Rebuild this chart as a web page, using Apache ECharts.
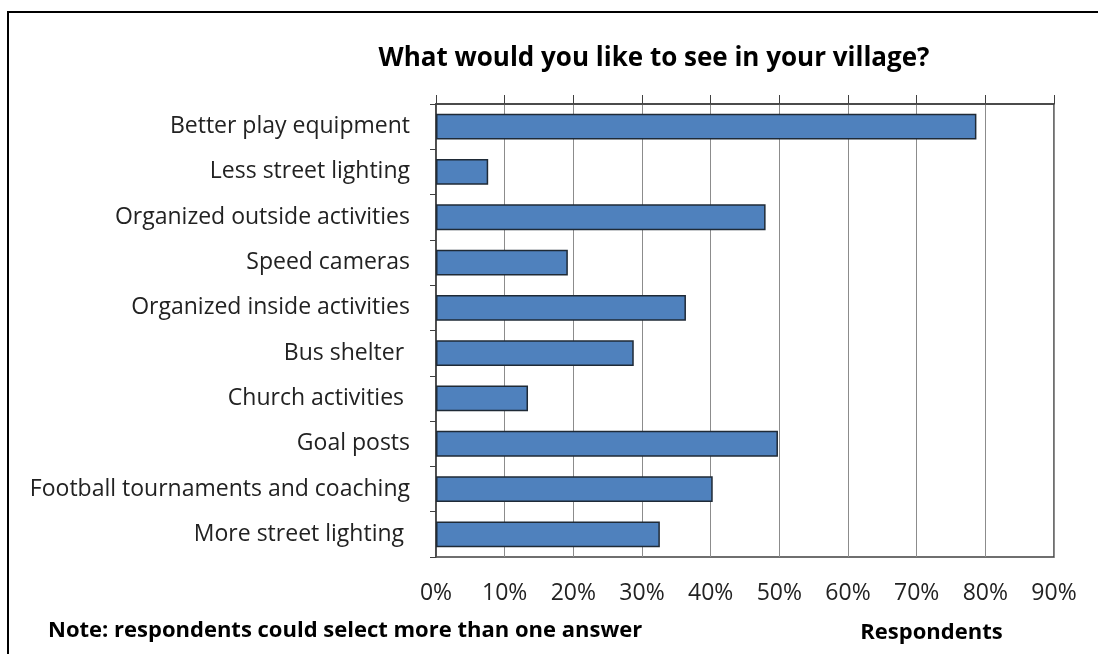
<!DOCTYPE html>
<html>
<head>
<meta charset="utf-8">
<script src="https://cdn.jsdelivr.net/npm/echarts@6/dist/echarts.min.js"></script>
<style>
  html, body { margin: 0; padding: 0; background: #fff; }
  #chart { width: 1098px; height: 654px; }
</style>
</head>
<body>
<div id="chart"></div>
<script>
// 类别（自上而下）与百分比
const categories = [
  'Better play equipment',
  'Less street lighting',
  'Organized outside activities',
  'Speed cameras',
  'Organized inside activities',
  'Bus shelter ',
  'Church activities ',
  'Goal posts',
  'Football tournaments and coaching',
  'More street lighting '
];
const values = [78.7, 7.6, 48.0, 19.2, 36.4, 28.8, 13.4, 49.8, 40.3, 32.6];
const xTicks = [0, 10, 20, 30, 40, 50, 60, 70, 80, 90];

const FONT = '"Open Sans", Lato, sans-serif';
const chart = echarts.init(document.getElementById('chart'));

chart.setOption({
  animation: false,
  backgroundColor: '#fff',
  title: {
    text: 'What would you like to see in your village?',
    left: 649, top: 41, textAlign: 'center',
    textStyle: { fontFamily: FONT, fontSize: 26, fontWeight: 'bold', color: '#000' }
  },
  grid: {
    left: 436, right: 44, top: 104, bottom: 97,
    show: true, borderColor: '#404040', borderWidth: 1.5
  },
  xAxis: [{
    type: 'value', position: 'top',
    min: xTicks[0], max: xTicks[xTicks.length - 1], interval: 10,
    axisLine: { show: true, lineStyle: { color: '#404040', width: 1.5 } },
    axisTick: { show: true, length: 9, lineStyle: { color: '#404040' } },
    axisLabel: { show: false },
    splitLine: { show: true, lineStyle: { color: '#8c8c8c', width: 1 } }
  }, {
    type: 'value', position: 'bottom',
    min: xTicks[0], max: xTicks[xTicks.length - 1], interval: 10,
    axisLine: { show: false }, axisTick: { show: false },
    splitLine: { show: false },
    axisLabel: {
      margin: 25, formatter: '{value}%',
      fontFamily: FONT, fontSize: 23, color: '#222'
    },
    name: 'Respondents', nameLocation: 'end',
    nameGap: 0,
    nameTextStyle: {
      fontFamily: FONT, fontSize: 22, fontWeight: 'bold', color: '#000',
      align: 'center', verticalAlign: 'top', padding: [65, 0, 0, -245]
    }
  }],
  yAxis: {
    type: 'category', data: categories, inverse: true,
    axisLine: { show: true, lineStyle: { color: '#404040', width: 1.5 } },
    axisTick: { show: true, length: 6, lineStyle: { color: '#404040' } },
    axisLabel: {
      margin: 26, padding: [3, 0, 0, 0],
      fontFamily: FONT, fontSize: 23, color: '#222'
    }
  },
  graphic: [{
    type: 'rect',
    shape: { x: 8, y: 12, width: 1200, height: 800 },
    style: { fill: 'none', stroke: '#000', lineWidth: 2 },
    silent: true
  }, {
    type: 'text', left: 48, top: 620,
    style: {
      text: 'Note: respondents could select more than one answer',
      fontFamily: FONT, fontSize: 22, fontWeight: 'bold', fill: '#000'
    }
  }],
  series: [{
    type: 'bar',
    data: values,
    barCategoryGap: '43%',
    itemStyle: { color: '#4f81bd', borderColor: '#1f2a36', borderWidth: 1.5 }
  }]
});
</script>
</body>
</html>
